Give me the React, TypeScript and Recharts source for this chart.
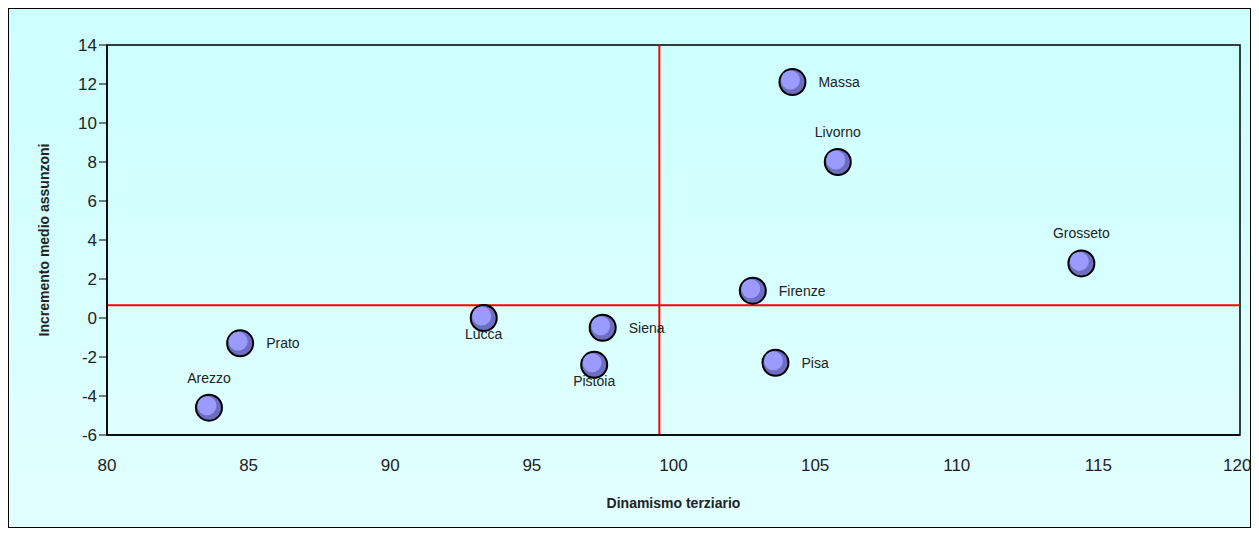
import * as React from "react";
import { ScatterChart, Scatter, XAxis, YAxis, ReferenceLine, ReferenceArea, LabelList } from "recharts";

const provinces = ["Arezzo", "Prato", "Lucca", "Siena", "Pistoia", "Firenze", "Pisa", "Massa", "Livorno", "Grosseto"];
const dinamismo = [83.6, 84.7, 93.3, 97.5, 97.2, 102.8, 103.6, 104.2, 105.8, 114.4];
const incremento = [-4.6, -1.3, 0.0, -0.5, -2.4, 1.4, -2.3, 12.1, 8.0, 2.8];
const labelSide = ["top", "right", "bottom", "right", "bottom", "right", "right", "right", "top", "top"];

const xTicks = [80, 85, 90, 95, 100, 105, 110, 115, 120];
const yTicks = [-6, -4, -2, 0, 2, 4, 6, 8, 10, 12, 14];
const mediaX = 99.5;
const mediaY = 0.65;

const data = provinces.map((name, i) => ({ name, x: dinamismo[i], y: incremento[i], side: labelSide[i] }));

const font = "'Liberation Sans Narrow', 'Arial Narrow', 'Liberation Sans', Arial, sans-serif";

function Ball(props: any) {
    const { cx, cy } = props;
    if (cx == null || cy == null) return null;
    return (
        <g>
            <circle cx={cx} cy={cy} r={13} fill="#6E6EC0" stroke="#000" strokeWidth={2} />
            <circle cx={cx - 2} cy={cy - 2} r={9.5} fill="#9A9AFF" />
        </g>
    );
}

function PointLabel(props: any) {
    const { x, y, width, height, index } = props;
    const d = data[index];
    const cx = x + width / 2;
    const cy = y + height / 2;
    let tx = cx, ty = cy, anchor: "start" | "middle" = "middle";
    if (d.side === "right") { tx = cx + 26; anchor = "start"; }
    else if (d.side === "top") { ty = cy - 30; }
    else { ty = cy + 16; }
    return (
        <text x={tx} y={ty} dy="0.35em" textAnchor={anchor} fontSize={14} fill="#222" fontFamily={font}>
            {d.name}
        </text>
    );
}

export default function App() {
    return (
        <div style={{ width: 1241, height: 518, border: "1px solid #000", background: "linear-gradient(#CCFFFF, #E2FFFF)" }}>
            <style>{".recharts-surface { overflow: visible; }"}</style>
            <ScatterChart width={1241} height={518} margin={{ top: 36, right: 10, left: 0, bottom: 52 }}>
                <XAxis
                    type="number"
                    dataKey="x"
                    domain={[80, 120]}
                    ticks={xTicks}
                    tickLine={false}
                    tickSize={0}
                    tickMargin={24}
                    height={40}
                    axisLine={{ stroke: "#000", strokeWidth: 1.5 }}
                    tick={{ fontSize: 17, fill: "#222", fontFamily: font }}
                    label={{ value: "Dinamismo terziario", position: "insideBottom", offset: -33, style: { fontSize: 14, fontWeight: "bold", fill: "#222", fontFamily: font } }}
                />
                <YAxis
                    type="number"
                    dataKey="y"
                    domain={[-6, 14]}
                    ticks={yTicks}
                    width={98}
                    tickSize={8}
                    tickMargin={2}
                    tickLine={{ stroke: "#000" }}
                    axisLine={{ stroke: "#000", strokeWidth: 1.5 }}
                    tick={{ fontSize: 17, fill: "#222", fontFamily: font }}
                    label={{ value: "Incremento medio assunzoni", angle: -90, position: "insideLeft", offset: 35, style: { textAnchor: "middle", fontSize: 14, fontWeight: "bold", fill: "#222", fontFamily: font } }}
                />
                <ReferenceArea x1={80} x2={120} y1={-6} y2={14} fill="none" stroke="#000" strokeWidth={1.5} ifOverflow="visible" />
                <ReferenceLine x={mediaX} stroke="#FF0000" strokeWidth={2} />
                <ReferenceLine y={mediaY} stroke="#FF0000" strokeWidth={2} />
                <Scatter data={data} shape={Ball} isAnimationActive={false}>
                    <LabelList dataKey="name" content={PointLabel} />
                </Scatter>
            </ScatterChart>
        </div>
    );
}
